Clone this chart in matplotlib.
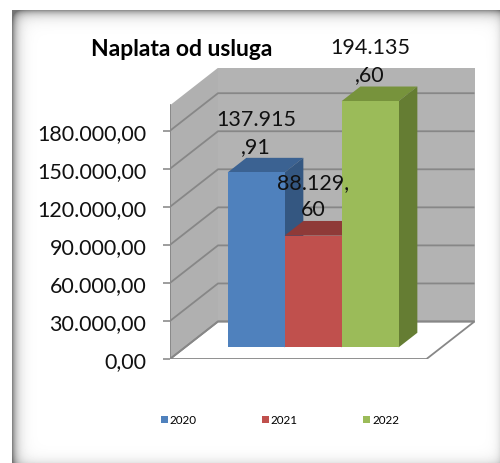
import numpy as np
import matplotlib
matplotlib.use("Agg")
import matplotlib.pyplot as plt
from matplotlib.patches import Polygon, Patch

plt.rcParams['font.family'] = ['Lato', 'DejaVu Sans']

# data
years = ['2020', '2021', '2022']
values = [137915.91, 88129.60, 194135.60]
colors_front = ['#4F81BD', '#C0504D', '#9BBB59']
colors_top = ['#3B6292', '#8F3A38', '#77933C']
colors_side = ['#345781', '#7E3331', '#657D33']
yticks = [0, 30000, 60000, 90000, 120000, 150000, 180000]
title = 'Naplata od usluga'

# 3d look, in data units
PX_X = 57.0             # pixels per category unit
VPP = 30000 / 38.05     # value per pixel
X0, WIDTH = -1.25, 4.5  # floor front edge
YMAX = 200000
DX = 48 / PX_X
DY = 37.5 * VPP
D0, D1 = 0.31, 0.70     # bar depth range


def fmt(v):
    s = f'{v:,.2f}'
    return s.replace(',', '#').replace('.', ',').replace('#', '.')


def proj(x, v, d):
    return (x + d * DX, v + d * DY)


fig = plt.figure(figsize=(5, 4.64), dpi=100)

# frame with inner shadow
bg = fig.add_axes([0, 0, 1, 1], zorder=-5)
H, W = 464, 500
yy, xx = np.mgrid[0:H, 0:W]
dark = (0.48 * np.exp(-(xx - 12) / 5.0) + 0.42 * np.exp(-(yy - 11) / 5.0)
        + 0.10 * np.exp(-(499 - xx) / 4.0) + 0.10 * np.exp(-(463 - yy) / 5.0))
shade = 1 - np.clip(dark, 0, 0.55)
shade[(xx < 12) | (yy < 11)] = 1.0
bg.imshow(shade, cmap='gray', vmin=0, vmax=1, extent=(0, W, H, 0), aspect='auto')
bg.set_xlim(0, W)
bg.set_ylim(H, 0)
bg.axis('off')

# main axes placed so the front plane matches the reference
ax_w = (WIDTH + DX) * PX_X
ax_h = (YMAX + DY) / VPP
ax = fig.add_axes([170 / W, (H - 360) / H, ax_w / W, ax_h / H])
ax.set_xlim(X0, X0 + WIDTH + DX)
ax.set_ylim(0, YMAX + DY)
for s in ax.spines.values():
    s.set_visible(False)
ax.set_xticks([])
ax.set_yticks(yticks)
ax.set_yticklabels([fmt(t) for t in yticks], fontsize=15.5, color='#111111')
ax.tick_params(axis='y', length=5, width=1.2, color='#8C8C8C', pad=12)
ax.patch.set_alpha(0)

wall = '#B3B3B3'
grid = '#878787'
# back wall
back = [proj(X0, 0, 1), proj(X0 + WIDTH, 0, 1), proj(X0 + WIDTH, YMAX, 1), proj(X0, YMAX, 1)]
ax.add_patch(Polygon(back, closed=True, fc=wall, ec='none', zorder=1))
# side wall
side = [proj(X0, 0, 0), proj(X0, 0, 1), proj(X0, YMAX, 1), proj(X0, YMAX, 0)]
ax.add_patch(Polygon(side, closed=True, fc='#B0B0B0', ec='none', zorder=1))
# floor
floor = [proj(X0, 0, 0), proj(X0 + WIDTH, 0, 0), proj(X0 + WIDTH, 0, 1), proj(X0, 0, 1)]
ax.add_patch(Polygon(floor, closed=True, fc='white', ec=grid, lw=1.3, zorder=2))
# gridlines
for t in yticks:
    xs, ys = zip(proj(X0, t, 0), proj(X0, t, 1), proj(X0 + WIDTH, t, 1))
    ax.plot(xs, ys, color=grid, lw=1.3, zorder=2, solid_capstyle='butt')
xs, ys = zip(proj(X0, 0, 0), proj(X0, YMAX, 0))
ax.plot(xs, ys, color=grid, lw=1.3, zorder=2)

# bars
pos = np.arange(len(values))
fx, base = proj(pos, 0, D0)
ax.bar(fx, values, width=1.0, bottom=base, color=colors_front, zorder=3)
for i, (x, h) in enumerate(zip(pos, values)):
    top = [proj(x - .5, h, D0), proj(x + .5, h, D0), proj(x + .5, h, D1), proj(x - .5, h, D1)]
    rs = [proj(x + .5, 0, D0), proj(x + .5, h, D0), proj(x + .5, h, D1), proj(x + .5, 0, D1)]
    z = 3 + i * 0.1
    ax.add_patch(Polygon(top, closed=True, fc=colors_top[i], ec='none', zorder=z + 0.05))
    ax.add_patch(Polygon(rs, closed=True, fc=colors_side[i], ec='none', zorder=z + 0.05))
    # front face drawn again above previous bar's side
    fr = [proj(x - .5, 0, D0), proj(x + .5, 0, D0), proj(x + .5, h, D0), proj(x - .5, h, D0)]
    ax.add_patch(Polygon(fr, closed=True, fc=colors_front[i], ec='none', zorder=z + 0.06))
    s = fmt(h)
    ax.annotate(s[:7] + '\n' + s[7:], xy=proj(x, h, D0), xytext=(0, 29),
                textcoords='offset points', ha='center', va='center',
                fontsize=15.5, linespacing=1.45, color='#111111', zorder=6,
                annotation_clip=False)

fig.text(182 / W, 1 - 50 / H, title, ha='center', va='center',
         fontsize=16.5, fontweight='bold', color='black')

handles = [Patch(fc=c, ec='none') for c in colors_front]
fig.legend(handles, years, loc='center', bbox_to_anchor=(280 / W, 1 - 421 / H),
           ncol=3, frameon=False, fontsize=8.4, handlelength=0.6, handleheight=0.6,
           handletextpad=0.15, columnspacing=5.6)

fig.savefig('out.png', dpi=100)
